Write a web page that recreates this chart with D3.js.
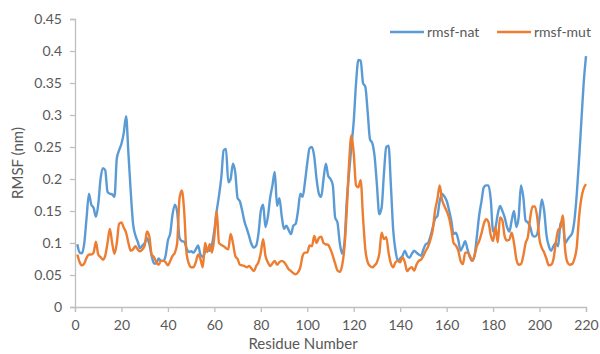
<!DOCTYPE html>
<html>
<head>
<meta charset="utf-8">
<script src="https://cdn.jsdelivr.net/npm/d3@7"></script>
<style>
  body { margin: 0; background: #fff; }
  svg text { font-family: Lato, "Liberation Sans", sans-serif; fill: #595959; }
</style>
</head>
<body>
<div id="chart"></div>
<script>
// residue numbers 1..220
const residues = d3.range(1, 221);

const rmsfNat = [
  0.098, 0.085, 0.084, 0.100, 0.140, 0.177, 0.160, 0.155, 0.141, 0.160,
  0.200, 0.217, 0.214, 0.180, 0.177, 0.176, 0.172, 0.232, 0.245, 0.255,
  0.272, 0.298, 0.240, 0.180, 0.130, 0.112, 0.102, 0.092, 0.096, 0.100,
  0.108, 0.098, 0.080, 0.068, 0.068, 0.076, 0.072, 0.072, 0.080, 0.104,
  0.115, 0.145, 0.160, 0.148, 0.108, 0.103, 0.102, 0.092, 0.086, 0.087,
  0.085, 0.090, 0.096, 0.082, 0.078, 0.086, 0.090, 0.088, 0.098, 0.120,
  0.150, 0.174, 0.203, 0.245, 0.247, 0.195, 0.200, 0.224, 0.210, 0.170,
  0.165, 0.150, 0.133, 0.122, 0.110, 0.098, 0.093, 0.096, 0.115, 0.150,
  0.160, 0.125, 0.140, 0.170, 0.190, 0.211, 0.158, 0.170, 0.142, 0.122,
  0.127, 0.120, 0.114, 0.127, 0.130, 0.150, 0.177, 0.172, 0.195, 0.225,
  0.248, 0.250, 0.235, 0.200, 0.177, 0.172, 0.200, 0.224, 0.205, 0.200,
  0.190, 0.140, 0.132, 0.100, 0.083, 0.100, 0.165, 0.210, 0.250, 0.290,
  0.350, 0.386, 0.385, 0.350, 0.344, 0.305, 0.262, 0.256, 0.235, 0.190,
  0.145, 0.155, 0.208, 0.250, 0.252, 0.190, 0.120, 0.088, 0.072, 0.076,
  0.080, 0.088, 0.080, 0.077, 0.083, 0.088, 0.085, 0.082, 0.080, 0.090,
  0.098, 0.100, 0.110, 0.124, 0.138, 0.142, 0.165, 0.177, 0.173, 0.166,
  0.152, 0.135, 0.114, 0.116, 0.105, 0.088, 0.095, 0.103, 0.090, 0.078,
  0.072, 0.080, 0.110, 0.143, 0.165, 0.187, 0.190, 0.190, 0.168, 0.118,
  0.124, 0.145, 0.158, 0.150, 0.140, 0.125, 0.118, 0.135, 0.150, 0.125,
  0.140, 0.190, 0.172, 0.135, 0.132, 0.125, 0.112, 0.110, 0.114, 0.140,
  0.168, 0.150, 0.112, 0.095, 0.088, 0.095, 0.100, 0.095, 0.130, 0.135,
  0.100, 0.105, 0.110, 0.115, 0.135, 0.175, 0.230, 0.290, 0.350, 0.392
];

const rmsfMut = [
  0.082, 0.070, 0.065, 0.068, 0.077, 0.082, 0.082, 0.085, 0.102, 0.082,
  0.078, 0.074, 0.080, 0.100, 0.122, 0.100, 0.083, 0.100, 0.130, 0.132,
  0.124, 0.116, 0.100, 0.088, 0.090, 0.095, 0.090, 0.087, 0.090, 0.096,
  0.118, 0.110, 0.082, 0.078, 0.070, 0.066, 0.072, 0.072, 0.070, 0.065,
  0.072, 0.080, 0.085, 0.100, 0.170, 0.182, 0.150, 0.085, 0.068, 0.062,
  0.062, 0.070, 0.082, 0.075, 0.062, 0.100, 0.086, 0.098, 0.085, 0.110,
  0.150, 0.100, 0.097, 0.095, 0.092, 0.090, 0.114, 0.100, 0.080, 0.075,
  0.066, 0.065, 0.064, 0.062, 0.064, 0.060, 0.056, 0.064, 0.070, 0.085,
  0.106, 0.080, 0.070, 0.064, 0.068, 0.072, 0.066, 0.070, 0.072, 0.070,
  0.065, 0.059, 0.056, 0.053, 0.051, 0.054, 0.062, 0.080, 0.085, 0.085,
  0.096, 0.095, 0.111, 0.100, 0.108, 0.110, 0.100, 0.098, 0.097, 0.090,
  0.080, 0.068, 0.057, 0.055, 0.065, 0.093, 0.150, 0.225, 0.268, 0.240,
  0.190, 0.187, 0.198, 0.140, 0.090, 0.070, 0.064, 0.062, 0.065, 0.070,
  0.083, 0.116, 0.106, 0.109, 0.085, 0.068, 0.062, 0.070, 0.072, 0.070,
  0.078, 0.070, 0.056, 0.060, 0.062, 0.057, 0.066, 0.072, 0.074, 0.080,
  0.088, 0.094, 0.105, 0.120, 0.150, 0.168, 0.190, 0.168, 0.158, 0.150,
  0.140, 0.122, 0.100, 0.096, 0.088, 0.072, 0.067, 0.085, 0.085, 0.080,
  0.072, 0.080, 0.095, 0.103, 0.115, 0.130, 0.137, 0.133, 0.112, 0.103,
  0.125, 0.101, 0.140, 0.135, 0.110, 0.104, 0.105, 0.116, 0.100, 0.075,
  0.066, 0.067, 0.080, 0.100, 0.110, 0.140, 0.157, 0.157, 0.140, 0.105,
  0.092, 0.085, 0.075, 0.065, 0.066, 0.075, 0.100, 0.120, 0.124, 0.143,
  0.090, 0.070, 0.066, 0.067, 0.075, 0.093, 0.140, 0.170, 0.185, 0.192
];

const xTicks = [0, 20, 40, 60, 80, 100, 120, 140, 160, 180, 200, 220];
const yTicks = [0, 0.05, 0.1, 0.15, 0.2, 0.25, 0.3, 0.35, 0.4, 0.45];
const seriesNames = ['rmsf-nat', 'rmsf-mut'];
const seriesColors = ['#5B9BD5', '#ED7D31'];

const width = 600, height = 354;
const margin = { top: 19, right: 14, bottom: 47, left: 75 };

const svg = d3.select('#chart').append('svg')
  .attr('width', width)
  .attr('height', height);

const x = d3.scaleLinear().domain([0, 220]).range([margin.left, width - margin.right]);
const y = d3.scaleLinear().domain([0, 0.45]).range([height - margin.bottom, margin.top]);

// axes
const xAxis = svg.append('g')
  .attr('transform', `translate(0,${height - margin.bottom})`)
  .call(d3.axisBottom(x).tickValues(xTicks).tickSize(5).tickPadding(8).tickFormat(d3.format('d')));
const yAxis = svg.append('g')
  .attr('transform', `translate(${margin.left},0)`)
  .call(d3.axisLeft(y).tickValues(yTicks).tickSize(5).tickPadding(8).tickFormat(d => d === 0 ? '0' : String(+d.toFixed(2))));

[xAxis, yAxis].forEach(g => {
  g.selectAll('path, line').attr('stroke', '#BFBFBF').attr('stroke-width', 1.3);
  g.selectAll('text').style('font-size', '14px').attr('fill', '#595959');
});

// axis titles
svg.append('text')
  .attr('x', 303).attr('y', 349)
  .attr('text-anchor', 'middle')
  .style('font-size', '15px')
  .text('Residue Number');

svg.append('text')
  .attr('transform', 'translate(23,163) rotate(-90)')
  .attr('text-anchor', 'middle')
  .style('font-size', '15px')
  .text('RMSF (nm)');

// lines
const line = values => d3.line()
  .x((d, i) => x(residues[i]))
  .y(d => y(d))
  .curve(d3.curveMonotoneX)(values);

[rmsfNat, rmsfMut].forEach((vals, k) => {
  svg.append('path')
    .attr('d', line(vals))
    .attr('fill', 'none')
    .attr('stroke', seriesColors[k])
    .attr('stroke-width', 2.4)
    .attr('stroke-linejoin', 'round');
});

// legend
const legendX = [390, 497];
seriesNames.forEach((name, k) => {
  const g = svg.append('g').attr('transform', `translate(${legendX[k]},32)`);
  g.append('line')
    .attr('x1', 0).attr('x2', 34)
    .attr('stroke', seriesColors[k])
    .attr('stroke-width', 2.4);
  g.append('text')
    .attr('x', 37).attr('y', 5)
    .style('font-size', '14px')
    .text(name);
});
</script>
</body>
</html>
